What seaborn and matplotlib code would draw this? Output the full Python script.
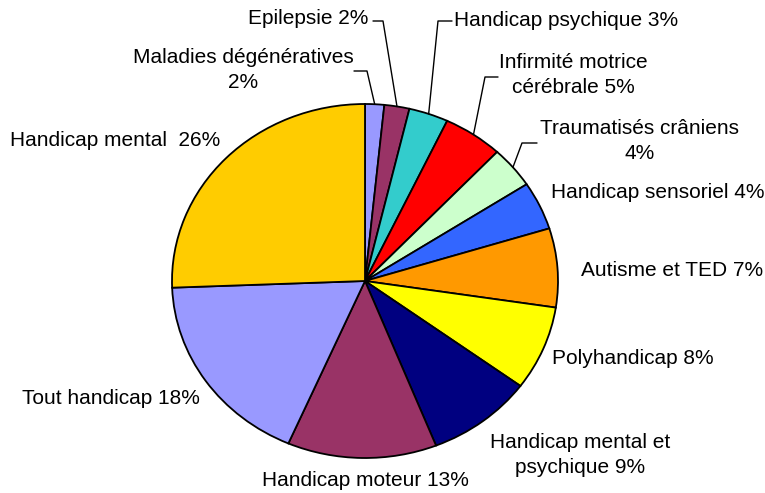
import matplotlib
matplotlib.use("Agg")
import matplotlib.pyplot as plt
import seaborn as sns
import numpy as np

# ---- data ----
categories = ["Maladies dégénératives", "Epilepsie", "Handicap psychique",
              "Infirmité motrice cérébrale", "Traumatisés crâniens",
              "Handicap sensoriel", "Autisme et TED", "Polyhandicap",
              "Handicap mental et psychique", "Handicap moteur",
              "Tout handicap", "Handicap mental"]
values = [1.6, 2.1, 3.3, 5.0, 3.8, 4.4, 7.2, 7.7, 8.9, 12.5, 17.9, 25.6]
label_texts = ["Maladies dégénératives\n2%", "Epilepsie 2%", "Handicap psychique 3%",
               "Infirmité motrice\ncérébrale 5%", "Traumatisés crâniens\n4%",
               "Handicap sensoriel 4%", "Autisme et TED 7%", "Polyhandicap 8%",
               "Handicap mental et\npsychique 9%", "Handicap moteur 13%",
               "Tout handicap 18%", "Handicap mental  26%"]
colors = ["#9999FF", "#993366", "#33CCCC", "#FF0000", "#CCFFCC", "#3366FF",
          "#FF9900", "#FFFF00", "#000080", "#993366", "#9999FF", "#FFCC00"]

# ---- layout (pixels in a 765x493 canvas) ----
W, H = 765, 493
CX, CY, RX, RY = 365, 281, 193, 177
label_pos = [(243, 70), (308, 19), (566, 20), (573, 75), (640, 141),
             (658, 193), (672, 270), (633, 358), (580, 455), (365, 481),
             (111, 399), (115, 141)]
# elbow (start, corner) for leader lines of small slices
leaders = {0: [(354, 71), (367, 71)], 1: [(373, 21), (383, 21)],
           2: [(452, 21), (438, 21)], 3: [(498, 77), (485, 77)],
           4: [(537, 143), (522, 143)]}

sns.set_theme(style="white")
plt.rcParams['font.family'] = ['Liberation Sans', 'DejaVu Sans']

fig = plt.figure(figsize=(W / 100, H / 100), dpi=100)
ax = fig.add_axes([0, 0, 1, 1])

wedges, _ = ax.pie(values, colors=colors, startangle=90, counterclock=False,
                   radius=1.0, wedgeprops=dict(edgecolor="black", linewidth=1.3))
ax.set_aspect("auto")
ax.set_xlim(-CX / RX, (W - CX) / RX)
ax.set_ylim(-(H - CY) / RY, CY / RY)
ax.axis("off")


def px2data(px, py):
    return (px - CX) / RX, (CY - py) / RY


for i, (txt, (px, py)) in enumerate(zip(label_texts, label_pos)):
    x, y = px2data(px, py)
    ax.text(x, y, txt, ha="center", va="center", multialignment="center",
            fontsize=15, color="black", linespacing=1.4)

for i, pts in leaders.items():
    w = wedges[i]
    mid = np.deg2rad((w.theta1 + w.theta2) / 2)
    ex, ey = np.cos(mid), np.sin(mid)
    xs = [px2data(*p)[0] for p in pts] + [ex]
    ys = [px2data(*p)[1] for p in pts] + [ey]
    ax.plot(xs, ys, color="black", linewidth=1.0)

fig.savefig("out.png", dpi=100, facecolor="white")
